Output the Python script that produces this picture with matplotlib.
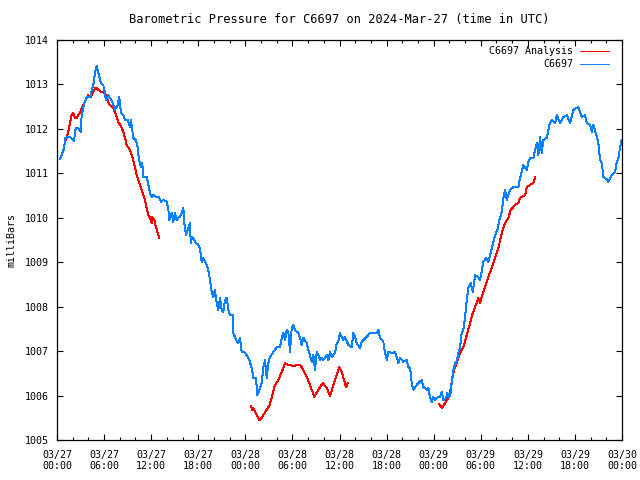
import matplotlib
matplotlib.use("Agg")
import matplotlib.pyplot as plt
import matplotlib.dates as mdates
import numpy as np
import pandas as pd

# hours after 2024-03-27 00:00 UTC, pressure in mb
station_hours = [
    0.38, 0.93, 1.02, 1.66, 2.17, 2.38, 2.68, 3.02, 3.15, 3.48, 3.82, 4.21, 4.63, 4.84,
    5.06, 5.26, 5.61, 5.90, 6.12, 6.21, 6.54, 6.75, 7.05, 7.39, 7.74, 7.94, 8.16, 8.45,
    8.67, 9.01, 9.30, 9.43, 9.72, 10.03, 10.28, 10.45, 10.70, 10.87, 11.00, 11.43, 11.72,
    11.85, 12.07, 12.27, 12.71, 13.00, 13.25, 13.55, 13.98, 14.18, 14.31, 14.62, 14.82,
    15.04, 15.25, 15.46, 15.67, 15.89, 16.10, 16.23, 16.44, 16.73, 16.95, 17.04, 17.24,
    17.59, 18.01, 18.22, 18.44, 18.64, 18.99, 19.28, 19.50, 19.71, 19.92, 20.13, 20.35,
    20.56, 20.77, 20.99, 21.19, 21.41, 21.63, 21.83, 22.05, 22.39, 22.47, 22.81, 23.10,
    23.32, 23.54, 23.83, 24.17, 24.51, 24.81, 25.02, 25.36, 25.53, 25.78, 26.09, 26.29,
    26.51, 26.72, 26.93, 27.14, 27.56, 28.00, 28.42, 28.64, 28.84, 29.06, 29.27, 29.48,
    29.69, 29.91, 30.11, 30.33, 30.75, 30.97, 31.18, 31.39, 31.82, 32.02, 32.24, 32.46,
    32.66, 32.88, 33.10, 33.30, 33.52, 33.73, 33.94, 34.37, 34.57, 34.79, 35.01, 35.43,
    35.64, 35.85, 36.06, 36.28, 36.48, 36.70, 37.12, 37.56, 37.76, 37.98, 38.19, 38.61,
    38.83, 39.03, 39.47, 39.89, 40.74, 40.95, 41.16, 41.58, 41.80, 42.02, 42.22, 42.65,
    43.07, 43.29, 43.49, 43.71, 44.13, 44.57, 44.77, 44.99, 45.20, 45.41, 45.62, 46.04,
    46.48, 46.68, 46.90, 47.11, 47.32, 47.53, 47.75, 47.96, 48.17, 48.39, 48.81, 49.02,
    49.23, 49.57, 49.74, 49.99, 50.17, 50.30, 50.50, 50.72, 50.94, 51.14, 51.36, 51.57,
    51.78, 51.99, 52.21, 52.41, 52.72, 52.98, 53.27, 53.69, 53.91, 54.33, 54.67, 54.96,
    55.40, 55.82, 56.11, 56.37, 56.67, 56.88, 57.09, 57.31, 57.73, 58.15, 58.79, 59.00,
    59.42, 59.86, 60.06, 60.28, 60.70, 61.13, 61.34, 61.55, 61.77, 61.97, 62.41, 62.74,
    63.04, 63.46, 63.68, 64.10, 64.52, 64.96, 65.38, 65.80, 66.23, 66.43, 66.87, 67.29,
    67.50, 67.92, 68.14, 68.34, 68.78, 68.98, 69.20, 69.42, 69.62, 70.05, 70.26, 70.69,
    71.11, 71.33, 71.53, 71.75, 71.94,
]
station_mb = [
    1011.32, 1011.57, 1011.80, 1011.82, 1011.73, 1012.02, 1012.02, 1011.93, 1012.31,
    1012.58, 1012.72, 1012.72, 1012.99, 1013.26, 1013.42, 1013.28, 1013.03, 1012.99,
    1012.81, 1012.65, 1012.76, 1012.70, 1012.61, 1012.43, 1012.54, 1012.72, 1012.36,
    1012.31, 1012.20, 1012.20, 1012.04, 1012.20, 1011.80, 1011.75, 1011.59, 1011.30,
    1011.14, 1011.23, 1010.92, 1010.92, 1010.69, 1010.56, 1010.47, 1010.51, 1010.47,
    1010.47, 1010.36, 1010.40, 1010.36, 1010.22, 1009.95, 1010.11, 1009.91, 1010.11,
    1009.95, 1010.00, 1010.02, 1010.11, 1010.22, 1009.88, 1009.61, 1009.77, 1009.88,
    1009.43, 1009.57, 1009.46, 1009.39, 1009.32, 1009.01, 1009.10, 1008.98, 1008.83,
    1008.60, 1008.33, 1008.22, 1008.38, 1008.08, 1007.93, 1008.20, 1007.93, 1007.88,
    1008.15, 1008.20, 1007.93, 1007.81, 1007.81, 1007.41, 1007.25, 1007.18, 1007.30,
    1006.98, 1006.98, 1006.91, 1006.80, 1006.62, 1006.40, 1006.40, 1006.01, 1006.13,
    1006.28, 1006.64, 1006.80, 1006.40, 1006.73, 1006.87, 1006.98, 1007.09, 1007.09,
    1007.30, 1007.41, 1007.25, 1007.48, 1007.43, 1006.98, 1007.52, 1007.59, 1007.48,
    1007.41, 1007.30, 1007.14, 1007.30, 1007.18, 1007.03, 1006.91, 1006.76, 1006.91,
    1006.58, 1006.98, 1006.91, 1006.80, 1006.85, 1006.80, 1006.91, 1006.80, 1006.98,
    1006.87, 1006.96, 1007.18, 1007.21, 1007.41, 1007.32, 1007.25, 1007.32, 1007.14,
    1007.09, 1007.41, 1007.32, 1007.18, 1007.07, 1007.21, 1007.25, 1007.32, 1007.41,
    1007.41, 1007.48, 1007.30, 1007.21, 1006.96, 1006.80, 1006.98, 1006.96, 1006.98,
    1006.87, 1006.73, 1006.85, 1006.76, 1006.80, 1006.64, 1006.62, 1006.28, 1006.13,
    1006.19, 1006.28, 1006.35, 1006.19, 1006.17, 1006.13, 1006.17, 1005.97, 1005.86,
    1005.97, 1005.90, 1005.95, 1005.97, 1006.08, 1005.90, 1005.95, 1006.06, 1005.97,
    1006.06, 1006.31, 1006.58, 1006.73, 1006.76, 1006.96, 1007.09, 1007.41, 1007.48,
    1007.75, 1008.15, 1008.42, 1008.53, 1008.33, 1008.71, 1008.67, 1008.60, 1009.01,
    1009.10, 1009.01, 1009.32, 1009.61, 1009.73, 1009.95, 1010.13, 1010.45, 1010.63,
    1010.40, 1010.63, 1010.69, 1010.69, 1010.90, 1011.19, 1011.08, 1011.26, 1011.35,
    1011.35, 1011.68, 1011.41, 1011.82, 1011.46, 1011.75, 1011.80, 1012.09, 1012.20,
    1012.13, 1012.31, 1012.13, 1012.27, 1012.31, 1012.13, 1012.43, 1012.47, 1012.49,
    1012.27, 1012.31, 1012.13, 1012.09, 1011.93, 1012.09, 1011.82, 1011.68, 1011.30,
    1011.23, 1010.92, 1010.87, 1010.81, 1010.96, 1011.03, 1011.26, 1011.35, 1011.59,
    1011.75,
]

# analysis series has gaps (nan between runs)
analysis_hours = [
    1.02, 1.24, 1.44, 1.66, 1.87, 2.08, 2.29, 2.51, 2.71, 2.93, 3.15, 3.35, 3.57, 3.78,
    3.99, 4.33, 4.63, 4.84, 5.06, 5.26, 5.70, 6.03, 6.33, 6.54, 6.75, 7.17, 7.39, 7.61,
    7.81, 8.03, 8.25, 8.45, 8.67, 8.88, 9.30, 9.52, 9.72, 9.94, 10.16, 10.36, 10.58,
    10.87, 11.00, 11.21, 11.43, 11.63, 11.85, 12.07, 12.14, 12.40, 12.62, 12.83, 13.00,
    np.nan,
    24.72, 24.89, 25.02, 25.45, 25.78, 26.09, 26.29, 26.72, 27.06, 27.36, 27.78, 28.20,
    28.64, 29.06, 29.48, 30.11, 30.97, 31.39, 31.82, 32.24, 32.79, 33.30, 33.86, 34.37,
    34.79, 35.21, 35.98, 36.28, 36.57, 36.83, 37.05,
    np.nan,
    48.72, 49.02, 49.45, 49.87, 50.08, 50.30, 50.59, 50.94, 51.36, 51.78, 52.21, 52.63,
    52.98, 53.27, 53.69, 53.91, 54.12, 54.54, 54.96, 55.40, 55.82, 56.24, 56.67, 57.09,
    57.51, 57.82, 58.37, 58.79, 59.00, 59.64, 59.86, 60.28, 60.70, 60.92,
]
analysis_mb = [
    1011.71, 1011.80, 1011.93, 1012.13, 1012.31, 1012.36, 1012.25, 1012.25, 1012.31,
    1012.36, 1012.47, 1012.54, 1012.61, 1012.70, 1012.76, 1012.72, 1012.83, 1012.92,
    1012.92, 1012.88, 1012.83, 1012.81, 1012.72, 1012.61, 1012.54, 1012.47, 1012.38,
    1012.27, 1012.16, 1012.09, 1012.02, 1011.93, 1011.80, 1011.64, 1011.53, 1011.41,
    1011.30, 1011.14, 1010.96, 1010.85, 1010.74, 1010.58, 1010.51, 1010.40, 1010.22,
    1010.06, 1010.00, 1009.88, 1010.02, 1009.95, 1009.79, 1009.66, 1009.55,
    np.nan,
    1005.77, 1005.68, 1005.72, 1005.56, 1005.45, 1005.50, 1005.56, 1005.68, 1005.77,
    1005.95, 1006.24, 1006.35, 1006.53, 1006.73, 1006.69, 1006.67, 1006.69, 1006.58,
    1006.42, 1006.24, 1005.97, 1006.13, 1006.28, 1006.17, 1005.99, 1006.24, 1006.64,
    1006.53, 1006.35, 1006.19, 1006.28,
    np.nan,
    1005.81, 1005.72, 1005.83, 1005.95, 1006.08, 1006.31, 1006.58, 1006.73, 1006.96,
    1007.09, 1007.36, 1007.63, 1007.86, 1007.99, 1008.20, 1008.08, 1008.22, 1008.44,
    1008.67, 1008.87, 1009.10, 1009.32, 1009.66, 1009.88, 1010.00, 1010.18, 1010.29,
    1010.33, 1010.45, 1010.51, 1010.69, 1010.74, 1010.78, 1010.92,
]

t0 = pd.Timestamp("2024-03-27 00:00")


def to_time(hours):
    h = np.array(hours, dtype=float)
    return t0 + pd.to_timedelta(np.nan_to_num(h), unit="h")


st_t = to_time(station_hours)
an_t = to_time(analysis_hours)
an_mb = np.array(analysis_mb, dtype=float)

plt.rcParams["font.family"] = "DejaVu Sans Mono"
plt.rcParams["font.size"] = 7.2

fig = plt.figure(figsize=(6.4, 4.8), dpi=100)
ax = fig.add_axes([0.089, 0.0833, 0.883, 0.8333])

ax.plot(an_t, an_mb, color="#ff0000", lw=0.7, antialiased=False, label="C6697 Analysis")
ax.plot(st_t, station_mb, color="#0a80ff", lw=0.7, antialiased=False, label="C6697")

ax.set_xlim(t0, t0 + pd.Timedelta(hours=72))
ax.set_ylim(1005, 1014)
ax.set_yticks(np.arange(1005, 1015, 1))
ax.xaxis.set_major_locator(mdates.HourLocator(byhour=range(0, 24, 6)))
ax.xaxis.set_minor_locator(mdates.HourLocator(byhour=range(0, 24, 2)))
ax.xaxis.set_major_formatter(mdates.DateFormatter("%m/%d\n%H:%M"))
ax.tick_params(which="both", direction="in", top=True, right=True, width=0.8)
ax.tick_params(which="major", length=4.5)
ax.tick_params(which="minor", length=2.5)
ax.tick_params(axis="x", pad=7)
ax.tick_params(axis="y", pad=6)
for s in ax.spines.values():
    s.set_linewidth(0.9)

ax.set_title("Barometric Pressure for C6697 on 2024-Mar-27 (time in UTC)", pad=12)
ax.set_ylabel("milliBars", labelpad=6)

leg = ax.legend(loc="upper right", bbox_to_anchor=(0.988, 1.0), frameon=False,
                markerfirst=False, handlelength=2.9, handletextpad=0.7,
                labelspacing=0.3, borderaxespad=0.2)
for col in leg._legend_handle_box.get_children():
    col.align = "right"

fig.savefig("out.png", dpi=100)
